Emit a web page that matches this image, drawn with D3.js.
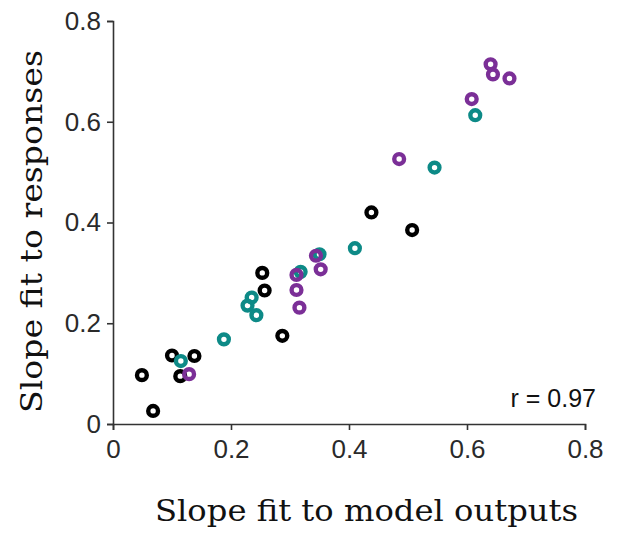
<!DOCTYPE html>
<html>
<head>
<meta charset="utf-8">
<script src="https://cdn.jsdelivr.net/npm/d3@7"></script>
<style>
  html, body { margin: 0; padding: 0; background: #fff; }
  svg { display: block; }
</style>
</head>
<body>
<svg id="chart" width="625" height="533"></svg>
<script>
// Slope fits: model outputs (x) vs. responses (y), three groups
const blackX  = [0.049, 0.068, 0.100, 0.138, 0.114, 0.253, 0.257, 0.287, 0.438, 0.507];
const blackY  = [0.097, 0.026, 0.136, 0.135, 0.095, 0.300, 0.265, 0.175, 0.420, 0.385];
const tealX   = [0.115, 0.188, 0.235, 0.228, 0.243, 0.318, 0.350, 0.410, 0.545, 0.614];
const tealY   = [0.125, 0.168, 0.251, 0.235, 0.216, 0.302, 0.337, 0.349, 0.509, 0.613];
const purpleX = [0.129, 0.311, 0.311, 0.316, 0.344, 0.352, 0.485, 0.608, 0.640, 0.644, 0.672];
const purpleY = [0.099, 0.296, 0.266, 0.231, 0.334, 0.307, 0.526, 0.645, 0.714, 0.694, 0.686];
const xTicks = [0, 0.2, 0.4, 0.6, 0.8];
const yTicks = [0, 0.2, 0.4, 0.6, 0.8];
const rLabel = "r = 0.97";

const groups = [
  { xs: blackX,  ys: blackY,  color: "#000000" },
  { xs: tealX,   ys: tealY,   color: "#0d8a87" },
  { xs: purpleX, ys: purpleY, color: "#7b2f97" }
];

const svg = d3.select("#chart");
const plotLeft = 113, plotRight = 585, plotTop = 21, plotBottom = 424;

const x = d3.scaleLinear().domain([0, 0.8]).range([plotLeft, plotRight]);
const y = d3.scaleLinear().domain([0, 0.8]).range([plotBottom, plotTop]);

const fmt = d => d === 0 ? "0" : d3.format(".1f")(d);

const xAxis = svg.append("g")
  .attr("transform", `translate(0,${plotBottom})`)
  .call(d3.axisBottom(x).tickValues(xTicks).tickFormat(fmt).tickSizeOuter(0).tickSize(6).tickPadding(10));
const yAxis = svg.append("g")
  .attr("transform", `translate(${plotLeft},0)`)
  .call(d3.axisLeft(y).tickValues(yTicks).tickFormat(fmt).tickSizeOuter(0).tickSize(6).tickPadding(6));

[xAxis, yAxis].forEach(g => {
  g.select(".domain").attr("stroke", "#333").attr("stroke-width", 1.6);
  g.selectAll(".tick line").attr("stroke", "#333").attr("stroke-width", 1.6);
  g.selectAll(".tick text")
    .attr("fill", "#2a2a2a")
    .style("font-family", "'Liberation Sans', Arial, sans-serif")
    .style("font-size", "26px");
});

// Points: black first, then teal, then purple on top
groups.forEach(gr => {
  svg.append("g").selectAll("circle")
    .data(gr.xs.map((v, i) => [v, gr.ys[i]]))
    .join("circle")
    .attr("cx", d => x(d[0]))
    .attr("cy", d => y(d[1]))
    .attr("r", 4.9)
    .attr("fill", "none")
    .attr("stroke", gr.color)
    .attr("stroke-width", 4.4);
});

// Correlation annotation
svg.append("text")
  .attr("x", 596).attr("y", 407)
  .attr("text-anchor", "end")
  .style("font-family", "'Liberation Sans', Arial, sans-serif")
  .style("font-size", "25px")
  .attr("fill", "#111")
  .text(rLabel);

// Axis titles
svg.append("text")
  .attr("x", 366.5).attr("y", 521)
  .attr("text-anchor", "middle")
  .attr("textLength", 423)
  .attr("lengthAdjust", "spacingAndGlyphs")
  .style("font-family", "'DejaVu Serif', serif")
  .style("font-size", "30px")
  .attr("fill", "#111")
  .text("Slope fit to model outputs");

svg.append("text")
  .attr("transform", "translate(42,231.5) rotate(-90)")
  .attr("text-anchor", "middle")
  .attr("textLength", 363)
  .attr("lengthAdjust", "spacingAndGlyphs")
  .style("font-family", "'DejaVu Serif', serif")
  .style("font-size", "30px")
  .attr("fill", "#111")
  .text("Slope fit to responses");
</script>
</body>
</html>
